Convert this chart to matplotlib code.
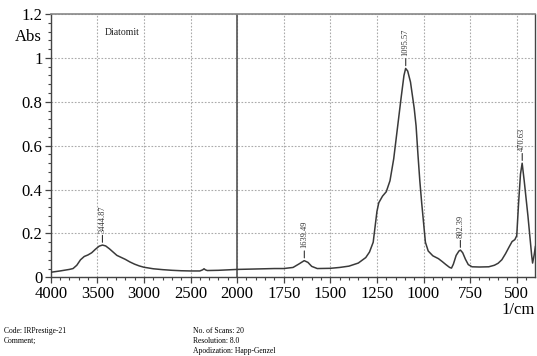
#!/usr/bin/env python3
import numpy as np
import matplotlib
matplotlib.use('Agg')
import matplotlib.pyplot as plt
from matplotlib.ticker import FixedLocator, FuncFormatter

plt.rcParams['font.family'] = ['Liberation Serif', 'DejaVu Serif']

# FTIR spectrum of diatomite (wavenumber in 1/cm, absorbance)
wavenumber = [
    4000, 3900, 3800, 3760, 3720, 3680, 3640, 3600, 3560, 3520, 3480, 3445,
    3410, 3370, 3330, 3290, 3250, 3200, 3150, 3100, 3050, 3000, 2900, 2800,
    2700, 2600, 2500, 2400, 2370, 2355, 2340, 2320, 2200, 2100, 2000, 1900,
    1800, 1750, 1700, 1670, 1640, 1620, 1600, 1570, 1500, 1450, 1400, 1350,
    1310, 1290, 1270, 1260, 1250, 1240, 1220, 1200, 1180, 1160, 1140, 1120,
    1105, 1096, 1085, 1070, 1060, 1050, 1040, 1030, 1020, 1010, 1000, 990,
    975, 950, 920, 900, 880, 860, 850, 840, 825, 810, 802, 790, 775, 760,
    740, 700, 650, 620, 600, 580, 560, 540, 525, 510, 500, 490, 480, 471,
    460, 450, 440, 430, 420, 415, 407, 400,
]
absorbance = [
    0.023, 0.029, 0.036, 0.040, 0.055, 0.080, 0.095, 0.102, 0.112, 0.128, 0.142, 0.147,
    0.143, 0.130, 0.115, 0.100, 0.092, 0.082, 0.070, 0.060, 0.052, 0.046, 0.039, 0.035,
    0.032, 0.030, 0.029, 0.029, 0.034, 0.039, 0.034, 0.031, 0.032, 0.034, 0.036, 0.038,
    0.040, 0.040, 0.045, 0.060, 0.076, 0.068, 0.050, 0.040, 0.041, 0.045, 0.051, 0.065,
    0.090, 0.115, 0.160, 0.230, 0.300, 0.340, 0.370, 0.390, 0.440, 0.540, 0.680, 0.820,
    0.920, 0.952, 0.940, 0.890, 0.830, 0.770, 0.690, 0.560, 0.440, 0.340, 0.250, 0.160,
    0.120, 0.098, 0.085, 0.072, 0.058, 0.045, 0.042, 0.060, 0.100, 0.120, 0.124, 0.112, 0.082, 0.058,
    0.048, 0.047, 0.048, 0.055, 0.064, 0.080, 0.108, 0.140, 0.163, 0.172, 0.190, 0.340, 0.470, 0.520,
    0.440, 0.360, 0.280, 0.190, 0.100, 0.065, 0.100, 0.140,
]

# labelled peaks
peak_pos = [3444.87, 1639.49, 1095.57, 802.39, 470.63]
peak_abs = [0.147, 0.076, 0.952, 0.124, 0.520]

x_major = [4000, 3500, 3000, 2500, 2000, 1750, 1500, 1250, 1000, 750, 500]
y_major = [0, 0.2, 0.4, 0.6, 0.8, 1.0, 1.2]


# x axis: 500 1/cm per division above 2000, 250 1/cm per division below
def fwd(w):
    w = np.asarray(w, dtype=float)
    return np.where(w >= 2000, w / 2.0, w - 1000.0)


def inv(u):
    u = np.asarray(u, dtype=float)
    return np.where(u >= 1000, u * 2.0, u + 1000.0)


fig = plt.figure(figsize=(5.37, 3.56), dpi=100)
ax = fig.add_axes([0.0944, 0.221, 0.9026, 0.7397])
ax.set_xscale('function', functions=(fwd, inv))

ax.plot(wavenumber, absorbance, color='#3a3a3a', lw=1.1, zorder=3)
ax.axvline(2000, color='#555555', lw=1.2, zorder=2)

ax.set_xlim(4000, 400)
ax.set_ylim(0, 1.2)

minor_x = [w for w in range(3900, 2000, -100) if w % 500] + \
          [w for w in range(1950, 400, -50) if w % 250]
ax.xaxis.set_major_locator(FixedLocator(x_major))
ax.xaxis.set_minor_locator(FixedLocator(minor_x))
ax.xaxis.set_major_formatter(FuncFormatter(lambda v, p: f"{v:.0f}"))
ax.xaxis.set_minor_formatter(FuncFormatter(lambda v, p: ""))
ax.yaxis.set_major_locator(FixedLocator(y_major))
ax.yaxis.set_minor_locator(FixedLocator(np.arange(0, 1.2001, 0.04)))
ax.yaxis.set_major_formatter(FuncFormatter(lambda v, p: f"{v:g}"))

ax.tick_params(which='major', direction='out', length=4, width=0.9,
               color='#444444', labelsize=12, pad=2)
ax.tick_params(which='minor', direction='out', length=2.5, width=0.8,
               color='#444444')

ax.grid(True, which='major', linestyle=(0, (1.5, 1.5)), color='#aaaaaa', lw=0.8)

for side in ['left', 'bottom', 'right']:
    ax.spines[side].set_color('#444444')
    ax.spines[side].set_linewidth(1.0)
ax.spines['top'].set_color('#888888')
ax.spines['top'].set_linestyle((0, (1.5, 1)))
ax.spines['top'].set_linewidth(1.2)

# peak markers with rotated wavenumber labels
for pos, val in zip(peak_pos, peak_abs):
    ax.annotate(f"{pos:.2f}", xy=(pos, val), xytext=(0, 9),
                textcoords='offset points', rotation=90,
                ha='center', va='bottom', fontsize=6, color='#333333',
                arrowprops=dict(arrowstyle='-', color='#333333', lw=0.8,
                                shrinkA=0, shrinkB=2))

ax.text(0.112, 0.928, 'Diatomit', transform=ax.transAxes, fontsize=7,
        ha='left', va='center', color='#222222')

fig.text(28 / 537, 1 - 37 / 356, 'Abs', fontsize=12, ha='center', va='center')
fig.text(535 / 537, 1 - 310 / 356, '1/cm', fontsize=12, ha='right', va='center')

fig.text(4 / 537, 1 - 331 / 356, 'Code: IRPrestige-21', fontsize=5.5, va='center')
fig.text(4 / 537, 1 - 341 / 356, 'Comment;', fontsize=5.5, va='center')
fig.text(193 / 537, 1 - 331 / 356, 'No. of Scans: 20', fontsize=5.5, va='center')
fig.text(193 / 537, 1 - 341 / 356, 'Resolution: 8.0', fontsize=5.5, va='center')
fig.text(193 / 537, 1 - 351 / 356, 'Apodization: Happ-Genzel', fontsize=5.5, va='center')

fig.savefig('out.png', dpi=100)
